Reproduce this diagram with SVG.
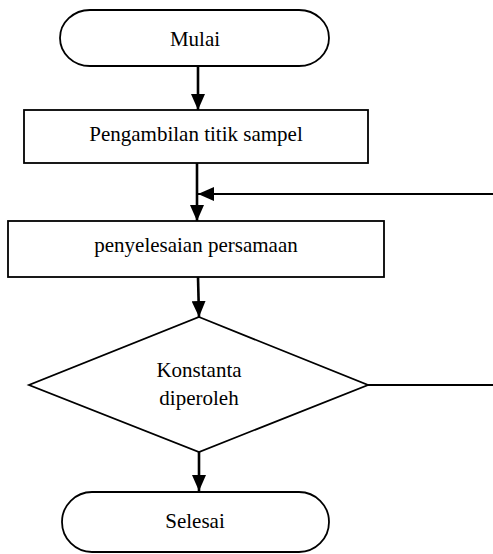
<svg xmlns="http://www.w3.org/2000/svg" width="493" height="554" viewBox="0 0 493 554">
<defs>
<marker id="ah" markerUnits="userSpaceOnUse" markerWidth="16" markerHeight="14" viewBox="0 0 16 14" refX="16" refY="7" orient="auto">
<path d="M0,0 L16,7 L0,14 Z" fill="#000"/>
</marker>
<style>
.shape{fill:#fff;stroke:#000;stroke-width:1.8}
.conn{fill:none;stroke:#000;stroke-width:2.6}
.fb{fill:none;stroke:#000;stroke-width:2}
.lbl{font-size:21px;fill:#000;text-anchor:middle}
</style>
</defs>
<rect width="493" height="554" fill="#fff"/>
<g font-family="Liberation Serif, Times New Roman, serif">
<g id="mulai">
<rect class="shape" x="60" y="10" width="269" height="56" rx="30" ry="28"/>
<text class="lbl" x="195" y="46">Mulai</text>
</g>
<g id="pengambilan">
<rect class="shape" x="24" y="110" width="344" height="53"/>
<text class="lbl" x="196" y="141">Pengambilan titik sampel</text>
</g>
<g id="penyelesaian">
<rect class="shape" x="8" y="221" width="376" height="56"/>
<text class="lbl" x="196" y="252">penyelesaian persamaan</text>
</g>
<g id="konstanta">
<polygon class="shape" points="199,317 368,385 199,452 29,385"/>
<text class="lbl" x="199" y="377">Konstanta</text>
<text class="lbl" x="199" y="405">diperoleh</text>
</g>
<g id="selesai">
<rect class="shape" x="62" y="492" width="267" height="60" rx="30" ry="30"/>
<text class="lbl" x="195" y="528">Selesai</text>
</g>
</g>
<g id="connectors">
<line class="conn" x1="198" y1="66" x2="198" y2="110" marker-end="url(#ah)"/>
<line class="conn" x1="197" y1="163" x2="197" y2="221" marker-end="url(#ah)"/>
<line class="conn" x1="198" y1="277" x2="199" y2="317" marker-end="url(#ah)"/>
<line class="conn" x1="199" y1="452" x2="199" y2="491" marker-end="url(#ah)"/>
<path class="fb" d="M368,385 H500 V194 H198" marker-end="url(#ah)"/>
</g>
</svg>
